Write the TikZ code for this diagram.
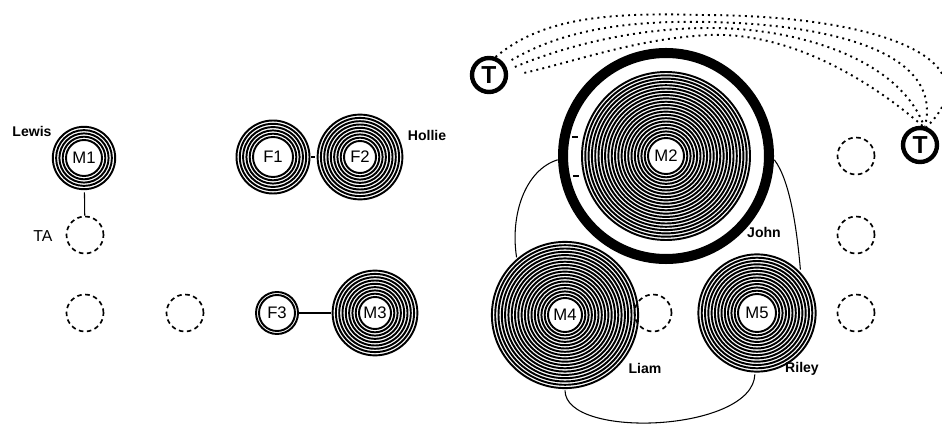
\documentclass[tikz,border=0pt]{standalone}
\usepackage{fontspec}
\setmainfont{Liberation Sans}
\tikzset{
  person/.style={circle, inner sep=0pt, minimum size=#1*0.02cm, font=\fontsize{9.5}{9.5}\selectfont},
  ring/.style={line width=1.1pt},
  vacant/.style={circle, draw, dash pattern=on 2.6pt off 2pt, line width=0.95pt, minimum size=37*0.02cm},
  tnode/.style={circle, draw, line width=2.5pt, inner sep=0pt, minimum size=34*0.02cm, font=\bfseries\fontsize{14}{14}\selectfont},
  alias/.style={font=\bfseries\fontsize{8}{8}\selectfont},
  plain/.style={font=\fontsize{9}{9}\selectfont},
  tie/.style={line width=0.6pt},
  link/.style={dash pattern=on 1.1pt off 2.4pt, line width=1.1pt},
}
\newcommand\rings[4]{\foreach \r in {#2,#3,...,#4} \draw[ring] (#1) circle[radius=\r];}
\begin{document}
\begin{tikzpicture}[x=0.02cm,y=-0.02cm]
\useasboundingbox (0,0) rectangle (942,425);
% people
\node[person=68] (M1) at (84,158) {M1};
\node[person=76] (F1) at (273,157) {F1};
\node[person=90] (F2) at (360,157) {F2};
\node[person=44] (F3) at (277,313) {F3};
\node[person=88] (M3) at (375,313) {M3};
\node[person=216] (M2) at (666,156) {M2};
\node[person=150] (M4) at (565,315) {M4};
\node[person=122] (M5) at (757,313) {M5};
\rings{M1}{18}{21.3}{33}
\rings{F1}{20}{23.3}{37}
\rings{F2}{16}{19.3}{44}
\rings{F3}{18}{21}{21}
\rings{M3}{16}{19.3}{43}
\rings{M2}{18}{21.3}{85}
\rings{M4}{17}{20.3}{74}
\rings{M5}{19}{22.3}{60}
\draw[line width=5.7pt] (M2) circle[radius=103];
\draw[tie] (572,137) -- (578,137);
\draw[tie] (573,176) -- (579,176);
% empty places
\node[vacant] (TA) at (85,235) {};
\node[vacant] (v1) at (85,313) {};
\node[vacant] (v2) at (185,313) {};
\node[vacant] (v3) at (653,313) {};
\node[vacant] (v4) at (856,156) {};
\node[vacant] (v5) at (856,235) {};
\node[vacant] (v6) at (856,313) {};
% names
\node[alias] at (32,131) {Lewis};
\node[plain] at (43,236) {TA};
\node[alias] at (427,135) {Hollie};
\node[alias] at (764,232) {John};
\node[alias] at (645,368) {Liam};
\node[alias] at (802,369) {Riley};
% ties
\draw[tie] (M1) -- (TA);
\draw[tie] (F1) -- (F2);
\draw[tie] (F3) -- (M3);
\draw[tie] (M2.182) .. controls (525,170) and (510,215) .. (M4.130);
\draw[tie] (M2.-2) .. controls (790,180) and (797,230) .. (M5.45);
\draw[tie] (M4.-90) .. controls (565,440) and (753,432) .. (M5.-92);
% T links
\node[tnode] (TL) at (489,75) {T};
\node[tnode] (TR) at (920,145) {T};
\draw[link] (TL.70) .. controls (540,20) and (600,12) .. (700,15) .. controls (880,15) and (995,60) .. (TR.70);
\draw[link, shorten <=4.5pt] (TL.35) .. controls (560,32) and (620,20) .. (710,22) .. controls (810,24) and (945,45) .. (TR.75);
\draw[link, shorten <=4.5pt] (TL.15) .. controls (560,48) and (630,28) .. (710,28) .. controls (800,28) and (900,60) .. (TR.78);
\draw[link, shorten <=9.5pt] (TL.-5) .. controls (580,60) and (640,38) .. (710,35) .. controls (790,32) and (870,80) .. (TR.82);
\end{tikzpicture}
\end{document}
